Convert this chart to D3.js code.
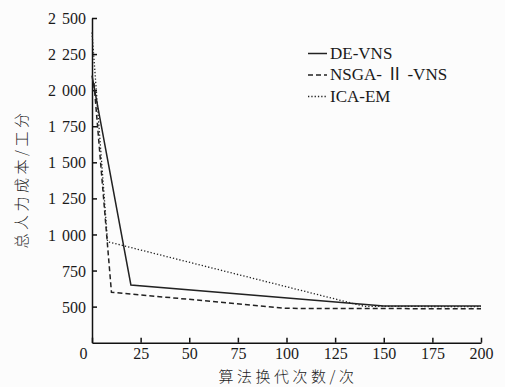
<!DOCTYPE html>
<html>
<head>
<meta charset="utf-8">
<script src="https://cdn.jsdelivr.net/npm/d3@7"></script>
<style>
  html, body { margin: 0; padding: 0; background: #fcfcfc; }
  svg { display: block; }
  .tick text { font-family: "Liberation Serif", "DejaVu Serif", serif; font-size: 16px; fill: #1a1a1a; }
</style>
</head>
<body>
<svg id="chart" width="505" height="387"></svg>
<script>
// Series data (iteration, total labour cost)
var deIter = [0, 20, 150, 200];
var deCost = [2100, 650, 505, 505];
var nsIter = [1, 10, 100, 200];
var nsCost = [2050, 600, 488, 485];
var icaIter = [0, 8, 140, 200];
var icaCost = [2400, 950, 502, 500];

var seriesNames = ["DE-VNS", "NSGA- \u2161 -VNS", "ICA-EM"];
var xTicks = [0, 25, 50, 75, 100, 125, 150, 175, 200];
var yTicks = [500, 750, 1000, 1250, 1500, 1750, 2000, 2250, 2500];

var svg = d3.select("#chart");

var x = d3.scaleLinear().domain([0, 200]).range([92, 481]);
var y = d3.scaleLinear().domain([250, 2500]).range([342.7, 18]);

// number format with a space as thousands separator
var fmt = function(d) {
    return d >= 1000 ? d3.format(",")(d).replace(",", " ") : String(d);
};

// y axis
var gy = svg.append("g")
    .attr("transform", "translate(" + x(0) + ",0)")
    .call(d3.axisLeft(y).tickValues(yTicks).tickFormat(fmt)
        .tickSizeInner(-5).tickSizeOuter(0).tickPadding(6));
gy.selectAll("text").attr("dy", "0.35em").style("word-spacing", "2px");

// x axis
var gx = svg.append("g")
    .attr("transform", "translate(0," + y(250) + ")")
    .call(d3.axisBottom(x).tickValues(xTicks).tickFormat(fmt)
        .tickSizeInner(-5).tickSizeOuter(0).tickPadding(5));
// origin label sits a little left of the axis
gx.selectAll(".tick").filter(function(d) { return d === 0; })
    .select("text").attr("x", -9);

svg.selectAll(".domain, .tick line")
    .attr("stroke", "#111")
    .attr("stroke-width", 1.5);

// lines
var line = d3.line()
    .x(function(d) { return x(d[0]); })
    .y(function(d) { return y(d[1]); });

var series = [
    { name: seriesNames[0], pts: d3.zip(deIter, deCost), dash: null, w: 1.5 },
    { name: seriesNames[1], pts: d3.zip(nsIter, nsCost), dash: "5,3", w: 1.5 },
    { name: seriesNames[2], pts: d3.zip(icaIter, icaCost), dash: "1.3,2", w: 1.3 }
];

svg.selectAll("path.series")
    .data(series)
    .enter()
    .append("path")
    .attr("class", "series")
    .attr("fill", "none")
    .attr("stroke", "#222")
    .attr("stroke-width", function(d) { return d.w; })
    .attr("stroke-dasharray", function(d) { return d.dash; })
    .attr("d", function(d) { return line(d.pts); });

// legend
var legend = svg.append("g");
var rows = legend.selectAll("g")
    .data(series)
    .enter()
    .append("g")
    .attr("transform", function(d, i) { return "translate(308," + (53.5 + i * 21.5) + ")"; });

rows.append("line")
    .attr("x1", 0).attr("x2", 19)
    .attr("y1", 0).attr("y2", 0)
    .attr("stroke", "#222")
    .attr("stroke-width", function(d) { return d.w; })
    .attr("stroke-dasharray", function(d) { return d.dash; });

rows.append("text")
    .attr("x", 22)
    .attr("y", 5)
    .style("font-family", "'Liberation Serif', 'Noto Sans CJK SC', serif")
    .style("font-size", "17px")
    .attr("fill", "#1a1a1a")
    .text(function(d) { return d.name; });

// axis titles
svg.append("text")
    .attr("transform", "translate(20,179) rotate(-90)")
    .attr("text-anchor", "middle")
    .attr("dominant-baseline", "central")
    .style("font-family", "'Noto Sans CJK SC', sans-serif")
    .style("font-size", "15px")
    .style("font-weight", 300)
    .style("letter-spacing", "3.5px")
    .attr("fill", "#222")
    .text("总人力成本/工分");

svg.append("text")
    .attr("x", 288)
    .attr("y", 382)
    .attr("text-anchor", "middle")
    .style("font-family", "'Noto Sans CJK SC', sans-serif")
    .style("font-size", "15px")
    .style("font-weight", 300)
    .style("letter-spacing", "3.5px")
    .attr("fill", "#222")
    .text("算法换代次数/次");
</script>
</body>
</html>
